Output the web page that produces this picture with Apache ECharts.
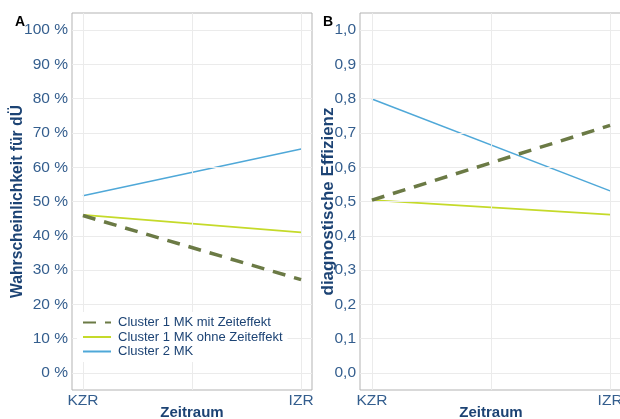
<!DOCTYPE html>
<html><head><meta charset="utf-8">
<script src="https://cdn.jsdelivr.net/npm/echarts@6/dist/echarts.min.js"></script>
<style>html,body{margin:0;padding:0;background:#fff}#c{width:620px;height:419px}</style>
</head><body><div id="c"></div>
<script>
const categories = ['KZR', 'IZR'];
const seriesNames = ['Cluster 1 MK mit Zeiteffekt', 'Cluster 1 MK ohne Zeiteffekt', 'Cluster 2 MK'];
// Panel A: Wahrscheinlichkeit für dÜ (%)
const aMit = [45.9, 27.2];
const aOhne = [46.1, 41.0];
const aC2 = [51.7, 65.3];
// Panel B: diagnostische Effizienz
const bMit = [0.504, 0.722];
const bOhne = [0.504, 0.462];
const bC2 = [0.799, 0.531];
const yTicksA = [0,10,20,30,40,50,60,70,80,90,100];
const yTicksB = [0,0.1,0.2,0.3,0.4,0.5,0.6,0.7,0.8,0.9,1.0];
const xPos = [0, 1];

const colors = ['#6b7a45', '#c5da2a', '#4fa8d8'];
const tickColor = '#345e8e';
const titleColor = '#1c4374';
const gridCol = '#ebebeb';

function xAxis(gi) {
  return {
    type: 'value', gridIndex: gi, min: -0.05, max: 1.05,
    name: 'Zeitraum', nameLocation: 'middle', nameGap: 15, nameMoveOverlap: false,
    nameTextStyle: {color: titleColor, fontWeight: 'bold', fontSize: 15, fontFamily: 'Liberation Sans'},
    axisLine: {show: false},
    axisTick: {show: true, customValues: xPos, length: 3, lineStyle: {color: '#999'}},
    axisLabel: {customValues: xPos, margin: 3, color: tickColor, fontSize: 15.5, fontFamily: 'Liberation Sans',
      formatter: v => categories[Math.round(v)]},
    splitLine: {show: false}
  };
}
function yAxis(gi, ticks, fmt, name, gap, mx, fs) {
  return {
    type: 'value', gridIndex: gi, min: -0.05*mx, max: 1.05*mx,
    name: name, nameLocation: 'middle', nameGap: gap, nameMoveOverlap: false,
    nameTextStyle: {color: titleColor, fontWeight: 'bold', fontSize: fs, fontFamily: 'Liberation Sans'},
    axisLine: {show: false},
    axisTick: {show: true, customValues: ticks, length: 3, lineStyle: {color: '#999'}},
    axisLabel: {customValues: ticks, margin: 4, color: tickColor, fontSize: 15.5, fontFamily: 'Liberation Sans', formatter: fmt},
    splitLine: {show: false}
  };
}
function gridLines(ticks) {
  return {
    silent: true, symbol: 'none', label: {show: false},
    lineStyle: {color: gridCol, type: 'solid', width: 1},
    data: ticks.map(t => ({yAxis: t})).concat([0, 0.5, 1].map(x => ({xAxis: x})))
  };
}
function mk(name, vals, gi, idx, ticks) {
  const s = {
    name: name, type: 'line', xAxisIndex: gi, yAxisIndex: gi,
    data: vals.map((v, i) => [xPos[i], v]), symbol: 'none',
    lineStyle: {color: colors[idx], width: idx === 0 ? 3.5 : (idx === 1 ? 1.8 : 1.5), type: idx === 0 ? [13, 9] : 'solid'},
    itemStyle: {color: colors[idx]}, z: 3 + (2 - idx)
  };
  if (ticks) s.markLine = gridLines(ticks);
  return s;
}

const chart = echarts.init(document.getElementById('c'), null, {renderer: 'canvas'});
chart.setOption({
  animation: false,
  backgroundColor: '#fff',
  title: [
    {text: 'A', left: 10, top: 10, textStyle: {fontSize: 14, fontWeight: 'bold', color: '#000', fontFamily: 'Liberation Sans'}},
    {text: 'B', left: 318, top: 10, textStyle: {fontSize: 14, fontWeight: 'bold', color: '#000', fontFamily: 'Liberation Sans'}}
  ],
  grid: [
    {left: 72, top: 13, width: 240, height: 377, outerBoundsMode: 'none', containLabel: false, show: true, borderColor: '#b3b3b3', borderWidth: 1, backgroundColor: 'transparent'},
    {left: 360, top: 13, width: 262, height: 377, outerBoundsMode: 'none', containLabel: false, show: true, borderColor: '#b3b3b3', borderWidth: 1, backgroundColor: 'transparent'}
  ],
  xAxis: [xAxis(0), xAxis(1)],
  yAxis: [
    yAxis(0, yTicksA, v => Math.round(v) + ' %', 'Wahrscheinlichkeit für dÜ', 46, 100, 15.7),
    yAxis(1, yTicksB, v => v.toFixed(1).replace('.', ','), 'diagnostische Effizienz', 23, 1, 17)
  ],
  legend: {
    orient: 'vertical', left: 77, top: 312, itemWidth: 28, itemHeight: 12, itemGap: 1.5,
    padding: [4, 5, 4, 5], backgroundColor: '#fff', z: 20,
    data: seriesNames,
    itemStyle: {opacity: 0},
    textStyle: {color: titleColor, fontSize: 13, lineHeight: 12.5, fontFamily: 'Liberation Sans', padding: [0, 0, 0, 2]}
  },
  series: [
    mk(seriesNames[0], aMit, 0, 0, yTicksA),
    mk(seriesNames[1], aOhne, 0, 1),
    mk(seriesNames[2], aC2, 0, 2),
    mk(seriesNames[0], bMit, 1, 0, yTicksB),
    mk(seriesNames[1], bOhne, 1, 1),
    mk(seriesNames[2], bC2, 1, 2)
  ]
});
</script></body></html>
